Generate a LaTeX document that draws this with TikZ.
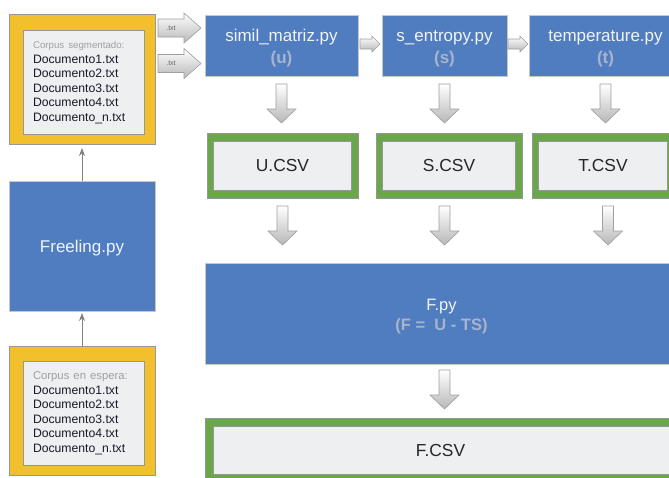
\documentclass[tikz,border=0pt]{standalone}
\usepackage{fontspec}
\setmainfont{Liberation Sans}
\usetikzlibrary{calc,arrows.meta}

\definecolor{boxblue}{RGB}{80,125,192}
\definecolor{corpusyellow}{RGB}{241,192,44}
\definecolor{csvgreen}{RGB}{106,167,75}
\definecolor{panelgray}{RGB}{238,239,241}
\definecolor{edgegray}{RGB}{150,150,150}
\definecolor{subgray}{RGB}{168,180,204}
\definecolor{labelgray}{RGB}{160,160,160}
\definecolor{doctext}{RGB}{25,25,40}
\definecolor{bluetext}{RGB}{240,244,250}

\newcommand{\subtag}[1]{{\bfseries\color{subgray}#1}}
% #1: heading size, #2: heading text
\newcommand{\doclist}[2]{{\color{labelgray}\fontsize{#1}{14.5}\selectfont #2}\\
  Documento1.txt\\ Documento2.txt\\ Documento3.txt\\ Documento4.txt\\ Documento\_n.txt}

\tikzset{
  base/.style={inner sep=0pt, outer sep=0pt, align=center},
  bluebox/.style={base, fill=boxblue, draw=black!22, line width=0.8pt},
  bluelabel/.style={base, text=bluetext, font=\fontsize{17}{22}\selectfont},
  yellowframe/.style={base, fill=corpusyellow, draw=edgegray, line width=0.6pt},
  greenframe/.style={base, fill=csvgreen, draw=edgegray, line width=0.6pt},
  panel/.style={base, fill=panelgray, draw=edgegray, line width=0.6pt},
  docpanel/.style={panel, align=left, text=doctext, inner xsep=10pt,
    font=\fontsize{12.2}{14.5}\selectfont},
  csvpanel/.style={panel, text=black!85, font=\fontsize{17.4}{20}\selectfont},
  blockfill/.style={draw=black!38, line width=0.6pt, top color=white, bottom color=black!28},
  txtlabel/.style={base, text=black!60, font=\fontsize{7}{8}\selectfont},
  thinarrow/.style={draw=black!50, line width=0.9pt,
    -{Stealth[length=8pt,width=6pt]}},
  downblock/.pic={
    \path[blockfill] (-5.5,-19.5) -- (5.5,-19.5) -- (5.5,5.5) -- (14.5,5.5)
      -- (0,19.5) -- (-14.5,5.5) -- (-5.5,5.5) -- cycle;
  },
  rightblock/.pic={
    \path[blockfill] (-10,-5) -- (2,-5) -- (2,-8) -- (10,0) -- (2,8) -- (2,5)
      -- (-10,5) -- cycle;
  },
  txtblock/.pic={
    \path[blockfill] (-21.5,-9) -- (4.5,-9) -- (4.5,-15) -- (21.5,0) -- (4.5,15)
      -- (4.5,9) -- (-21.5,9) -- cycle;
    \node[txtlabel] (-label) at (-8.5,0) {.txt};
  },
}

\begin{document}
\begin{tikzpicture}[x=1pt,y=-1pt]
  \useasboundingbox (0,0) rectangle (669,477);
  \clip (0,0) rectangle (669,477);

  % corpus panels and the tagging step
  \node[yellowframe, minimum width=146pt, minimum height=130pt] (segouter) at (82,79) {};
  \node[docpanel, text width=101pt, minimum height=104pt] (seginner) at (83.5,82.5)
    {\doclist{9.7}{Corpus segmentado:}};

  \node[bluebox, minimum width=146pt, minimum height=130pt] (freeling) at (82,246) {};
  \node[bluelabel] (freelingtext) at ($(freeling.center)+(0,2)$) {Freeling.py};

  \node[yellowframe, minimum width=146pt, minimum height=129pt] (waitouter) at (82,410.5) {};
  \node[docpanel, text width=101pt, minimum height=104pt] (waitinner) at (83.5,413.5)
    {\doclist{11.3}{Corpus en espera:}};

  \draw[thinarrow, shorten >=4pt] (freeling.north) -- (segouter.south);
  \draw[thinarrow, shorten >=2pt] (waitouter.north) -- (freeling.south);

  % scripts
  \node[bluebox, minimum width=153pt, minimum height=61pt] (simil) at (281.5,45.5) {};
  \node[bluelabel] (similtext) at ($(simil.center)+(0,3)$) {simil\_matriz.py\\ \subtag{(u)}};
  \node[bluebox, minimum width=125pt, minimum height=61pt] (sent) at (444.5,45.5) {};
  \node[bluelabel] (senttext) at ($(sent.center)+(0,3)$) {s\_entropy.py\\ \subtag{(s)}};
  \node[bluebox, minimum width=153pt, minimum height=61pt] (temp) at (605.5,45.5) {};
  \node[bluelabel] (temptext) at ($(temp.center)+(0,3)$) {temperature.py\\ \subtag{(t)}};

  \pic (txtA) at (179.5,28) {txtblock};
  \pic (txtB) at (179.5,63.5) {txtblock};
  \pic at ($(simil.east)!0.5!(sent.west)+(0,-1.5)$) {rightblock};
  \pic at ($(sent.east)!0.5!(temp.west)+(0,-1.5)$) {rightblock};

  % output tables
  \node[greenframe, minimum width=151pt, minimum height=65pt] (uout) at (282.5,165.5) {};
  \node[csvpanel, minimum width=138pt, minimum height=49pt] (ucsv) at (282.5,165.5) {U.CSV};
  \node[greenframe, minimum width=146pt, minimum height=65pt] (sout) at (449,165.5) {};
  \node[csvpanel, minimum width=133pt, minimum height=49pt] (scsv) at (449,165.5) {S.CSV};
  \node[greenframe, minimum width=142pt, minimum height=65pt] (tout) at (603,165.5) {};
  \node[csvpanel, minimum width=129pt, minimum height=49pt] (tcsv) at (603,165.5) {T.CSV};

  \pic at ($(simil.south)+(0,27.5)$) {downblock};
  \pic at ($(sent.south)+(0,27.5)$) {downblock};
  \pic at ($(temp.south)+(0,27.5)$) {downblock};

  % free energy step
  \node[bluebox, minimum width=475pt, minimum height=101pt] (fpy) at (442.5,313.5) {};
  \node[bluelabel, font=\fontsize{16.5}{20.5}\selectfont] (fpytext) at ($(fpy.center)+(-1,3)$)
    {F.py\\ \subtag{(F =~ U - TS)}};

  \pic at ($(uout.south)+(0,27.5)$) {downblock};
  \pic at ($(sent.south |- sout.south)+(0,27.5)$) {downblock};
  \pic at ($(tout.south)+(5,27.5)$) {downblock};

  \node[greenframe, minimum width=475pt, minimum height=64pt] (fout) at (442.5,450) {};
  \node[csvpanel, minimum width=459pt, minimum height=48pt] (fcsv) at (442.5,450) {};
  \node[base, text=black!85, font=\fontsize{17.4}{20}\selectfont] (fcsvtext)
    at ($(fcsv.center)+(-2,1)$) {F.CSV};

  \pic at ($(sent.south |- fpy.south)+(0,25.5)$) {downblock};
\end{tikzpicture}
\end{document}
